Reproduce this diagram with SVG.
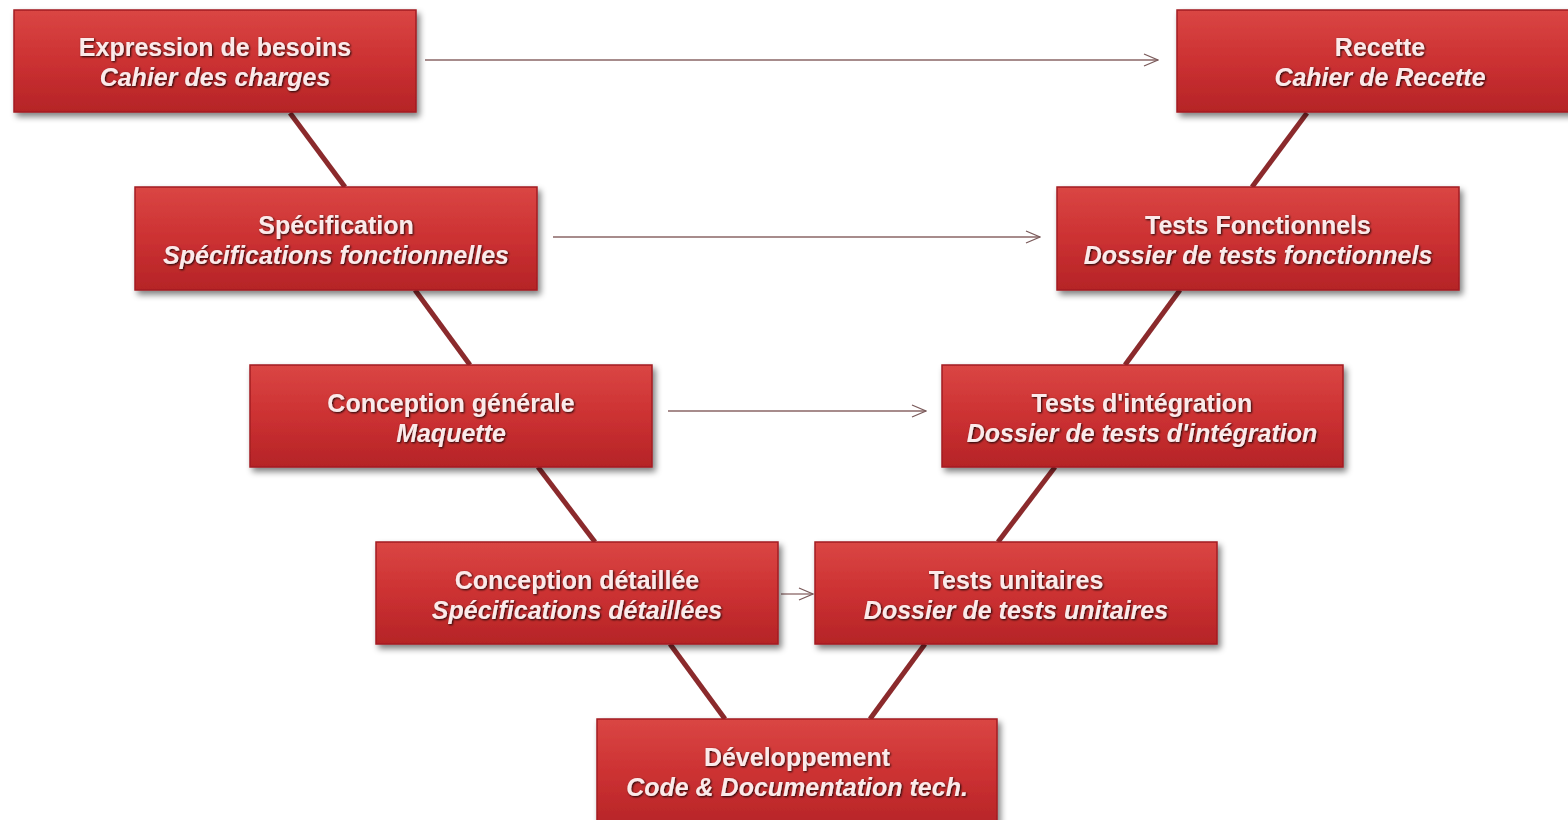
<svg xmlns="http://www.w3.org/2000/svg" width="1568" height="820" viewBox="0 0 1568 820">
<defs>
<linearGradient id="g" x1="0" y1="0" x2="0" y2="1">
<stop offset="0" stop-color="#da4644"/>
<stop offset="0.5" stop-color="#cc3132"/>
<stop offset="1" stop-color="#b52427"/>
</linearGradient>
<filter id="sh" x="-5%" y="-10%" width="115%" height="130%">
<feGaussianBlur in="SourceAlpha" stdDeviation="3"/>
<feOffset dx="3" dy="4" result="b"/>
<feComponentTransfer><feFuncA type="linear" slope="0.5"/></feComponentTransfer>
<feMerge><feMergeNode/><feMergeNode in="SourceGraphic"/></feMerge>
</filter>
<filter id="ts" x="-5%" y="-20%" width="110%" height="140%">
<feGaussianBlur in="SourceAlpha" stdDeviation="1.2"/>
<feOffset dx="1" dy="1"/>
<feComponentTransfer><feFuncA type="linear" slope="0.9"/></feComponentTransfer>
<feMerge><feMergeNode/><feMergeNode in="SourceGraphic"/></feMerge>
</filter>
<marker id="arr" markerWidth="16" markerHeight="14" refX="15" refY="7" orient="auto" markerUnits="userSpaceOnUse">
<path d="M1,1 L15,7 L1,13" fill="none" stroke="#7a5a5a" stroke-width="1.3"/>
</marker>
</defs>
<style>
.box{fill:url(#g);stroke:#a31e22;stroke-width:1.5;filter:url(#sh)}
.t{font-family:"Liberation Sans",Arial,sans-serif;font-size:25px;font-weight:bold;fill:#fbeaea;text-anchor:middle;filter:url(#ts)}
.i{font-style:italic}
.v{stroke:#8b2a2c;stroke-width:5;fill:none}
.h{stroke:#8a6666;stroke-width:1.3;fill:none;marker-end:url(#arr)}
</style>
<rect width="1568" height="820" fill="#ffffff"/>
<g id="connectors">
<line class="v" x1="290" y1="113" x2="345" y2="187"/>
<line class="v" x1="415" y1="290" x2="470" y2="365"/>
<line class="v" x1="538" y1="467" x2="595" y2="542"/>
<line class="v" x1="670" y1="644" x2="725" y2="719"/>
<line class="v" x1="1307" y1="113" x2="1252" y2="187"/>
<line class="v" x1="1180" y1="290" x2="1125" y2="365"/>
<line class="v" x1="1055" y1="467" x2="998" y2="542"/>
<line class="v" x1="925" y1="644" x2="870" y2="719"/>
<line class="h" x1="425" y1="60" x2="1158" y2="60"/>
<line class="h" x1="553" y1="237" x2="1040" y2="237"/>
<line class="h" x1="668" y1="411" x2="926" y2="411"/>
<line class="h" x1="781" y1="594" x2="813" y2="594"/>
</g>
<g id="n1"><rect class="box" x="14" y="10" width="402" height="102"/>
<text class="t" x="215" y="56">Expression de besoins</text><text class="t i" x="215" y="86">Cahier des charges</text></g>
<g id="n2"><rect class="box" x="1177" y="10" width="395" height="102"/>
<text class="t" x="1380" y="56">Recette</text><text class="t i" x="1380" y="86">Cahier de Recette</text></g>
<g id="n3"><rect class="box" x="135" y="187" width="402" height="103"/>
<text class="t" x="336" y="234">Spécification</text><text class="t i" x="336" y="264">Spécifications fonctionnelles</text></g>
<g id="n4"><rect class="box" x="1057" y="187" width="402" height="103"/>
<text class="t" x="1258" y="234">Tests Fonctionnels</text><text class="t i" x="1258" y="264">Dossier de tests fonctionnels</text></g>
<g id="n5"><rect class="box" x="250" y="365" width="402" height="102"/>
<text class="t" x="451" y="412">Conception générale</text><text class="t i" x="451" y="442">Maquette</text></g>
<g id="n6"><rect class="box" x="942" y="365" width="401" height="102"/>
<text class="t" x="1142" y="412">Tests d'intégration</text><text class="t i" x="1142" y="442">Dossier de tests d'intégration</text></g>
<g id="n7"><rect class="box" x="376" y="542" width="402" height="102"/>
<text class="t" x="577" y="589">Conception détaillée</text><text class="t i" x="577" y="619">Spécifications détaillées</text></g>
<g id="n8"><rect class="box" x="815" y="542" width="402" height="102"/>
<text class="t" x="1016" y="589">Tests unitaires</text><text class="t i" x="1016" y="619">Dossier de tests unitaires</text></g>
<g id="n9"><rect class="box" x="597" y="719" width="400" height="110"/>
<text class="t" x="797" y="766">Développement</text><text class="t i" x="797" y="796">Code &amp; Documentation tech.</text></g>
</svg>
